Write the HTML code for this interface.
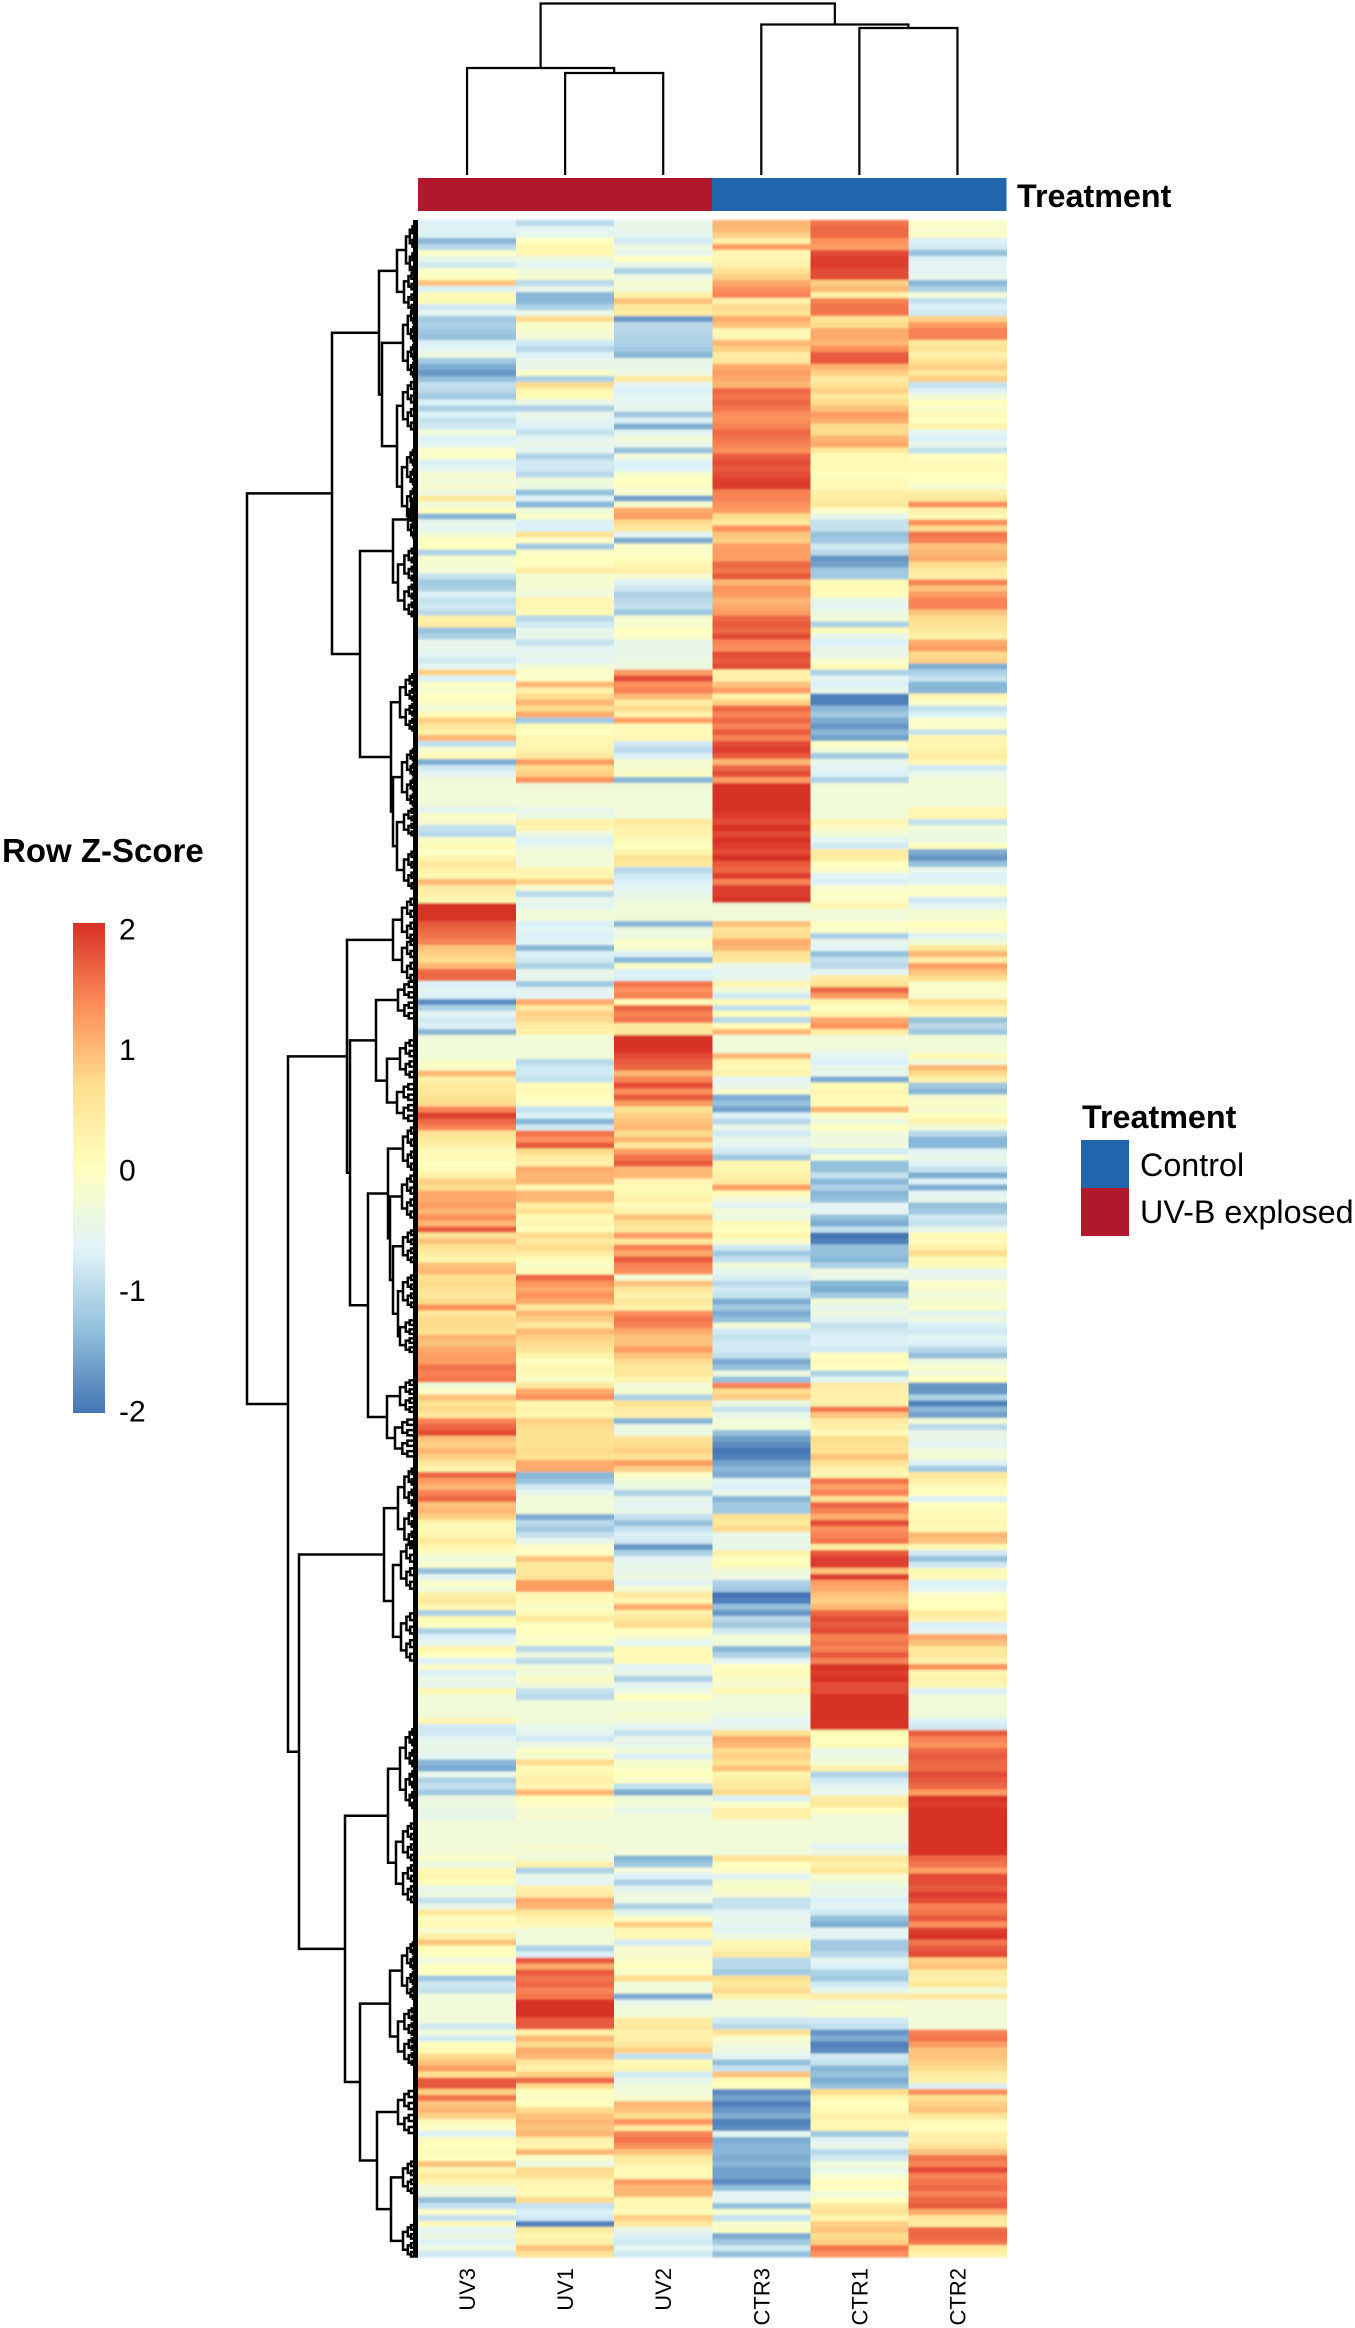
<!DOCTYPE html>
<html lang="en">
<head>
<meta charset="utf-8">
<title>Row Z-Score heatmap</title>
<style>
html,body{margin:0;padding:0;background:#fff;}
svg{display:block;font-family:"Liberation Sans",sans-serif;}
</style>
</head>
<body>
<svg id="chart" xmlns="http://www.w3.org/2000/svg" width="1355" height="2328" viewBox="0 0 1355 2328">
  <defs>
    <filter id="soft" x="0" y="-1%" width="100%" height="102%"><feGaussianBlur stdDeviation="0 1"/></filter>
    <linearGradient id="zgrad" x1="0" y1="0" x2="0" y2="1"></linearGradient>
  </defs>
  <rect x="0" y="0" width="1355" height="2328" fill="#fff"/>
  <g id="heat" filter="url(#soft)"></g>
  <path id="rowDendro" fill="none" stroke="#000" stroke-width="2.5"/>
  <rect x="413" y="220" width="5" height="2037" fill="#000"/>
  <path id="colDendro" fill="none" stroke="#000" stroke-width="2.2"/>
  <rect x="418" y="178" width="294" height="33" fill="#b0182b"/>
  <rect x="712" y="178" width="294.5" height="33" fill="#2166ac"/>
  <text x="1017" y="207" font-size="32.3" font-weight="bold" fill="#000">Treatment</text>
  <g id="colLabels"></g>
  <text x="2" y="862" font-size="33" font-weight="bold" fill="#000">Row Z-Score</text>
  <rect x="73" y="923" width="32" height="490" fill="url(#zgrad)"/>
  <g id="zTicks"></g>
  <text x="1082" y="1128" font-size="32.3" font-weight="bold" fill="#000">Treatment</text>
  <rect x="1081" y="1140" width="48" height="48" fill="#2166ac"/>
  <rect x="1081" y="1188" width="48" height="48" fill="#b0182b"/>
  <text x="1140" y="1176" font-size="32.3" fill="#000">Control</text>
  <text x="1140" y="1223" font-size="32.3" fill="#000">UV-B explosed</text>
</svg>
<script>
// Column names, left to right
const columnLabels = ["UV3","UV1","UV2","CTR3","CTR1","CTR2"];
// Colour scale
const scaleStops = [-2,-1.33,-0.67,0,0.67,1.33,2];
const scaleColors = ["#4575b4","#91bfdb","#e0f3f8","#ffffbf","#fee090","#fc8d59","#d73027"];
const zTickValues = [2,1,0,-1,-2];
// Row z-scores ×10, top row first, one array per column
const uv3 = [
-7,-6,-7,-14,-10,-1,-5,-8,-1,0,9,-7,1,1,-8,-6,-12,-11,-12,-13,-7,-6,-4,-12,-15,-17,-13,-9,-10,-12,-7,-11,-7,-9,-8,-3,-7,-6,-1,-1,-7,-6,-2,-3,-2,-4,5,-3,0,-14,-5,-6,-3,0,0,-11,-2,
-2,-3,-9,-12,-11,-7,-9,-8,-10,3,4,-13,-11,-5,-5,-6,-8,-6,8,-7,-1,-2,0,-1,-3,1,8,5,3,10,-9,-2,1,-15,-8,-6,-3,-3,-3,-3,-3,-6,-1,-2,-9,-10,-1,1,-1,2,5,3,2,10,4,3,2,
20,20,20,17,16,15,14,9,8,7,10,16,16,-7,-6,-7,-18,-11,-6,-8,-7,-14,-3,-3,-3,-3,-1,-1,10,3,5,5,6,7,14,19,16,14,6,5,3,1,1,0,1,3,8,7,11,11,12,10,13,10,17,6,9,
6,4,2,9,10,6,7,6,5,7,13,5,7,7,6,10,9,11,12,12,15,14,15,-3,-1,9,6,7,5,14,16,18,9,8,10,8,5,3,16,12,10,14,16,9,10,8,2,1,2,5,2,-1,-3,-2,-13,-6,
-1,-3,3,5,2,-11,1,0,-11,-7,-5,2,0,-7,-1,-7,-4,-5,2,-3,-3,-3,-3,2,-8,-8,-6,-5,-5,-6,-14,-15,-5,-11,-9,-12,-4,-4,-5,-5,-3,-3,-3,-3,-3,-3,-1,-4,1,2,1,-5,-4,-9,-5,5,0,
1,-2,3,9,0,0,-4,0,0,-12,-8,-9,-3,-3,-3,-3,-3,-8,-3,-8,0,1,7,9,12,6,17,17,8,15,9,10,8,1,-1,-7,1,0,1,0,9,2,5,2,-3,-4,-13,-9,-1,-9,1,-6,-4,-7,-4,-8
];
const uv1 = [
-10,-6,-5,0,2,2,-4,-6,-3,-2,-10,-5,-14,-14,-11,-5,7,-1,-2,-3,-8,-10,-7,-5,-5,-1,-11,7,2,1,-5,-11,-5,-6,-7,-9,-6,-5,-6,-11,-8,-8,-10,-3,-4,-13,-7,-14,-3,-1,-7,-7,6,-1,-12,-1,0,
0,4,-2,-2,-3,-3,2,2,1,-10,-8,-5,-5,-9,-6,-5,-6,-3,-1,-1,10,3,7,10,7,11,-12,1,0,2,2,3,4,12,7,8,13,-3,-3,-3,-3,-5,-4,3,2,-4,-7,-5,-3,-3,-3,2,2,8,-2,-10,-5,
-6,-3,-3,-7,-6,-7,-6,-14,-7,-8,-11,-5,-5,-12,-6,-6,11,5,8,7,4,3,-3,-3,-3,-3,-10,-8,-8,-9,1,1,0,-1,-9,-7,-14,-8,15,13,17,7,4,3,11,10,10,2,10,10,4,6,1,2,0,7,5,
7,4,1,-1,1,16,13,11,13,11,5,10,8,5,10,8,7,6,3,0,2,1,-1,5,11,13,2,3,2,8,7,6,6,6,7,6,11,11,-14,-13,-8,-5,-3,-3,-3,-15,-10,-12,-9,-5,-1,0,9,5,5,6,
12,12,1,1,-1,1,5,0,0,-1,-1,-10,-4,-10,-3,-3,-1,-3,-9,-10,-3,-3,-3,-3,-5,-6,-8,-4,-1,-2,7,1,2,3,2,10,0,-1,-2,-2,-3,-3,-3,-3,-2,-3,-3,3,-11,-5,-6,3,4,11,10,5,3,
1,-3,-3,-3,-11,-7,17,11,17,15,16,14,15,20,20,20,17,17,3,10,7,11,10,5,3,8,16,7,0,-1,0,7,9,10,9,10,3,2,10,-1,-4,7,6,2,2,1,7,-9,-7,-8,-19,4,2,3,9,6
];
const uv2 = [
-5,-5,-6,-8,-4,-5,0,-5,-11,-4,-2,-3,3,9,5,4,-17,-10,-10,-11,-11,-12,-14,-5,-5,-4,5,-6,-7,-6,-6,-5,-12,-7,-15,-6,-3,-5,-13,-3,-7,-7,-2,0,-1,-2,-16,-2,11,12,7,5,-6,-15,-1,-1,0,
2,3,-2,-7,-8,-11,-10,-9,-12,-2,-2,0,-1,-5,-5,-5,-4,-4,12,18,13,14,10,4,7,3,12,1,1,2,-8,-10,-7,-2,-2,-1,-14,-3,-3,-3,-3,-3,-3,5,3,3,1,0,2,6,5,-10,-8,-7,-6,-5,-4,
-3,-3,-3,-14,-4,-4,-1,-2,-7,-14,-1,-7,-7,15,13,14,1,16,14,15,4,5,20,20,20,18,17,16,10,14,18,13,17,12,6,8,9,10,7,10,5,12,15,17,10,10,2,1,2,3,1,3,9,6,5,12,5,
14,11,17,14,13,-3,9,5,3,5,3,13,15,14,11,9,9,12,9,7,5,5,3,-3,-2,-11,6,4,3,-14,-4,-4,6,7,8,6,12,8,-1,-3,-4,-11,-5,-6,-5,-9,-13,-9,-7,-8,-17,-11,-6,-5,-5,-4,
-6,-2,5,2,11,3,5,7,0,-2,-6,1,1,1,-6,-5,-11,-6,-4,0,-3,-3,-2,-3,-6,-9,-5,-5,-3,-7,-2,-1,0,-1,-9,-15,-3,-3,-5,-3,-3,-3,-3,-3,-3,-3,-14,-12,-3,-7,-11,-6,-4,-4,-11,-6,-1,
8,2,2,-8,-2,-2,-1,0,-1,7,-3,-3,-15,-5,-3,-3,4,5,3,3,5,8,-9,1,2,-8,-5,-3,-3,-2,10,9,7,13,5,14,15,13,9,5,3,1,1,12,10,10,2,2,1,8,5,-5,-7,-8,-6,-8
];
const ctr3 = [
10,10,8,3,12,2,2,3,6,8,11,13,14,3,7,6,11,9,2,2,10,8,4,5,11,12,11,10,16,15,16,15,13,13,14,16,15,14,13,17,18,17,18,19,19,14,14,13,12,7,5,13,9,8,12,12,12,
16,15,17,10,13,12,10,11,12,16,17,16,18,14,13,18,17,18,3,3,9,12,3,8,16,14,16,14,17,14,18,19,17,10,16,18,12,20,20,20,20,20,19,18,20,18,20,19,18,20,17,16,19,14,19,19,20,
-3,-3,-3,9,6,7,11,10,6,5,-5,-6,-5,2,-3,-8,1,-9,1,-10,1,10,-3,-3,-3,10,2,1,3,-6,-5,-2,-15,-13,-16,-7,-10,-5,-8,-5,-6,-8,-12,2,2,3,4,12,1,-3,-6,-3,-4,1,0,2,-1,
-8,-12,-9,-3,-5,-7,-10,-8,-9,-15,-12,-15,-13,-3,-8,-9,-8,-8,-9,-15,-13,-4,-13,14,7,8,-4,-9,-5,-3,-3,-13,-16,-18,-20,-19,-16,-14,-15,-6,-7,-5,-14,-12,-12,6,5,7,-5,-5,-5,3,0,1,-3,-4,
-11,-12,-20,-19,-13,-17,-10,-12,-8,-3,-3,-14,-11,-6,0,1,-1,-2,2,-3,-3,-3,-4,-6,-5,6,11,10,7,8,6,9,2,4,5,7,-7,-1,3,3,-3,-3,-3,-3,-3,-3,6,0,-1,-6,-2,-1,-2,-9,-9,-6,-5,
-6,-6,-4,1,2,5,-10,-10,-12,6,5,7,3,-3,-3,-3,-8,-10,6,-1,-3,-4,-6,-13,-9,9,1,0,-18,-16,-19,-17,-15,-19,-18,-6,-15,-14,-14,-15,-14,-16,-16,-18,-13,-6,-6,-13,-2,-9,-2,-1,-15,-12,-8,-13
];
const ctr1 = [
15,16,16,13,12,18,19,19,18,18,8,10,3,14,15,15,6,7,11,11,10,13,17,17,10,8,4,6,8,5,7,9,12,11,7,7,10,11,5,1,1,1,0,1,1,3,4,5,-1,-5,-9,-9,-13,-12,-8,-10,-17,
-16,-12,-12,1,1,1,-5,-6,-4,-3,-11,1,-5,-7,-5,-5,-2,1,-11,-6,-7,-5,-19,-19,-14,-12,-15,-17,-14,-16,-1,-3,-12,-5,-6,-7,-11,-3,-3,-3,-3,-3,-3,2,-1,-3,-6,-8,4,4,0,-1,-6,-7,-2,-1,-1,
2,-3,-3,-1,-1,-11,-5,-6,-13,-9,-10,-6,4,6,16,12,2,0,2,11,13,4,-3,-3,-4,-6,-7,-5,-5,-15,1,2,1,1,10,-1,-4,0,-3,-4,-3,-8,-2,-13,-13,-9,-14,-11,-14,-13,-6,-6,-13,-15,-9,-20,-19,
-13,-13,-14,-11,-4,-5,-14,-15,-12,-3,-5,-4,-6,-9,-8,-7,-7,-8,0,1,0,-11,-6,4,3,3,3,15,9,4,3,1,7,6,6,9,6,3,2,15,12,14,6,16,14,11,18,13,14,15,4,17,19,19,9,19,
12,11,9,8,10,16,18,17,18,14,15,14,17,14,20,19,20,18,18,20,20,20,20,20,20,1,0,1,-5,-4,-3,3,-11,-8,-6,-5,4,5,0,-3,-3,-3,-3,-3,-6,-4,5,3,6,-2,-3,-5,-5,-7,-6,-8,-13,
-15,-6,-6,-12,-12,-10,-6,-7,-11,-12,-8,-5,4,-3,-2,-2,-8,-9,-17,-15,-19,-18,-8,-9,-14,-13,-15,-13,7,2,0,1,3,2,2,-12,-6,-5,-10,-8,-3,-5,-2,0,0,-3,0,5,6,2,8,9,7,8,15,13
];
const ctr2 = [
-1,-2,-1,-7,-8,-13,-7,-6,-6,-5,-14,-11,-3,-9,-7,-8,8,12,14,14,5,6,3,6,8,5,8,-9,-7,-3,0,-1,1,0,3,-6,-7,-5,-9,0,1,1,0,0,-2,3,5,13,3,1,13,7,15,14,9,10,11,
7,4,4,14,9,12,14,14,9,7,6,5,3,11,12,7,8,-15,-11,-9,-14,-14,2,-1,-9,-7,-1,-1,-9,2,2,3,4,2,-8,-5,-3,-3,-3,-3,-3,2,2,-9,-3,-4,-4,0,-15,-17,-13,-5,-7,-6,-1,-1,-8,
-6,-2,-2,0,-1,-6,-3,5,10,4,12,9,7,-1,-1,-2,7,3,2,-13,-10,-12,-3,-3,-3,1,-3,10,7,3,-12,-14,-2,-1,-2,0,3,-3,-10,-14,-14,-6,-5,-6,-9,-15,-7,-15,-6,-5,-13,-12,-8,-9,-5,1,1,
3,7,1,1,-6,-5,-1,-2,-3,-2,-1,-6,-4,-7,-8,-6,-7,-10,-13,-4,-2,-3,0,-17,-17,-11,-19,-14,-16,-3,-10,-5,-5,-6,-3,-3,-7,-12,5,3,1,0,-7,0,1,1,2,1,10,9,1,-8,-13,-8,1,1,
-7,-6,-1,0,0,4,3,-7,-6,11,9,5,5,3,13,2,3,2,-7,-3,-3,-3,-3,-7,-8,17,14,13,16,17,16,16,18,17,16,12,20,19,20,20,20,20,20,20,20,20,16,15,12,18,18,17,19,18,14,15,17,
13,19,20,15,17,18,8,9,4,3,5,-3,5,-3,-3,-3,-3,-3,14,15,12,9,9,8,7,4,3,-7,13,6,8,9,5,1,0,3,3,6,9,15,14,18,14,15,16,14,16,17,11,5,4,16,16,15,5,3
];
const heatColumns = [uv3,uv1,uv2,ctr3,ctr1,ctr2];

// Column dendrogram: [merge height, left child, right child]; a number is a column index
const colTree = [171.5,[107,0,[102,1,2]],[150.5,3,[147,4,5]]];

// Row dendrogram: [merge height, child, child]; a terminal cluster is [height, centre row, row span]
const rowTree = [171,
  [86,
    [39,
      [21,[12,4.5,9],[14,11.5,7]],
      [36,[15,20,12],[21,[15,30.5,9],[16,44,13]]]
    ],
    [58,
      [25,[10,49.5,7],[20,60,12]],
      [27,[18,80,10],[25,[16,92.5,10],[21,[14,100,5],[14,108,7]]]]
    ]
  ],
  [130,
    [71,
      [25,[16,116.3,8],[16,123,8]],
      [68,
        [42,[20,129.7,7],[31,[18,139.5,7],[21,146.8,7]]],
        [50,
          [30,[15,154.5,8],[28,[16,162.5,8],[25,[15,170.8,6],[20,[15,178.3,6],[18,185.8,6]]]]],
          [31,[18,195.8,6],[23,202.8,7]]
        ]
      ]
    ],
    [119,
      [34,[20,214.5,14],[25,[17,224,9],[17,236,9]]],
      [73,
        [30,[18,258,14],[22,273.7,14]],
        [58,
          [28,[16,291.7,10],[20,302.7,10]],
          [41,[20,315.3,8],[27,[15,326.2,6],[15,336.8,6]]]
        ]
      ]
    ]
  ]
];

const SVGNS = "http://www.w3.org/2000/svg";
const heatLeft = 418, heatTop = 220, heatWidth = 588.5, heatHeight = 2037;
const colWidth = heatWidth / columnLabels.length;
const rowCount = uv3.length;
const rowH = heatHeight / rowCount;

function colX(i){ return heatLeft + i * colWidth; }
function colCenter(i){ return colX(i) + colWidth / 2; }
function rowY(r){ return heatTop + r * rowH; }
function colDendroY(h){ return 175 - h; }
function rowDendroX(h){ return heatLeft - h; }
function zTickY(v){ return 1170 - v * 120.5; }

function colorFor(v){
  const n = scaleStops.length;
  if (v <= scaleStops[0]) return scaleColors[0];
  if (v >= scaleStops[n-1]) return scaleColors[n-1];
  let i = 0;
  while (v > scaleStops[i+1]) i++;
  const t = (v - scaleStops[i]) / (scaleStops[i+1] - scaleStops[i]);
  const a = scaleColors[i], b = scaleColors[i+1];
  const ch = function(s,k){ return parseInt(s.substr(1+2*k,2),16); };
  return "rgb(" + [0,1,2].map(function(k){ return Math.round(ch(a,k) + (ch(b,k)-ch(a,k))*t); }).join(",") + ")";
}

// Heatmap cells
const heatG = document.getElementById("heat");
heatColumns.forEach(function(values, c){
  const h = heatHeight / values.length;
  values.forEach(function(v, r){
    const el = document.createElementNS(SVGNS, "rect");
    
    
    el.setAttribute("x", colX(c));
    el.setAttribute("y", heatTop + r * h);
    el.setAttribute("width", colWidth + 0.4);
    el.setAttribute("height", h + 0.4);
    el.setAttribute("fill", colorFor(v / 10));
    el.setAttribute("shape-rendering", "crispEdges");
    heatG.appendChild(el);
  });
});

// Column labels
const colLabelG = document.getElementById("colLabels");
columnLabels.forEach(function(label, i){
  const t = document.createElementNS(SVGNS, "text");
  
  
  const x = colCenter(i) + 8, y = 2268;
  t.setAttribute("transform", "translate(" + x + "," + y + ") rotate(-90)");
  t.setAttribute("text-anchor", "end");
  t.setAttribute("font-size", "22");
  t.setAttribute("fill", "#000");
  t.textContent = label;
  colLabelG.appendChild(t);
});

// Column dendrogram
let colPath = "";
function drawCol(node){
  if (typeof node === "number") return {x: colCenter(node), h: 0};
  const a = drawCol(node[1]), b = drawCol(node[2]);
  const y = colDendroY(node[0]);
  colPath += "M" + a.x + " " + colDendroY(a.h) + "V" + y + "H" + b.x + "V" + colDendroY(b.h);
  return {x: (a.x + b.x) / 2, h: node[0]};
}
drawCol(colTree);
document.getElementById("colDendro").setAttribute("d", colPath);

// Row dendrogram
let rowPath = "";
function bracket(h, a, b){
  const x = rowDendroX(h);
  rowPath += "M" + rowDendroX(a.h) + " " + a.y + "H" + x + "V" + b.y + "H" + rowDendroX(b.h);
}
function drawCluster(h, y0, y1){
  if (y1 - y0 < rowH * 1.2 || h < 1.5) return {y: (y0 + y1) / 2, h: 0};
  const m = (y0 + y1) / 2;
  const a = drawCluster(h * 0.68, y0, m), b = drawCluster(h * 0.68, m, y1);
  bracket(h, a, b);
  return {y: (a.y + b.y) / 2, h: h};
}
function drawRow(node){
  if (!Array.isArray(node[1])) {
    const half = node[2] / 2;
    return drawCluster(node[0], rowY(node[1] - half + 0.5), rowY(node[1] + half + 0.5));
  }
  const a = drawRow(node[1]), b = drawRow(node[2]);
  bracket(node[0], a, b);
  return {y: (a.y + b.y) / 2, h: node[0]};
}
drawRow(rowTree);
document.getElementById("rowDendro").setAttribute("d", rowPath);

// Colour bar gradient
const grad = document.getElementById("zgrad");
scaleStops.slice().reverse().forEach(function(v, i){
  const s = document.createElementNS(SVGNS, "stop");
  s.setAttribute("offset", (2 - v) / 4);
  s.setAttribute("stop-color", colorFor(v));
  grad.appendChild(s);
});

// Colour bar ticks
const zG = document.getElementById("zTicks");
zTickValues.forEach(function(v){
  const t = document.createElementNS(SVGNS, "text");
  
  
  t.setAttribute("x", 119);
  t.setAttribute("y", zTickY(v) + 10.5);
  t.setAttribute("font-size", "30");
  t.setAttribute("fill", "#000");
  t.textContent = String(v);
  zG.appendChild(t);
});
</script>
</body>
</html>
